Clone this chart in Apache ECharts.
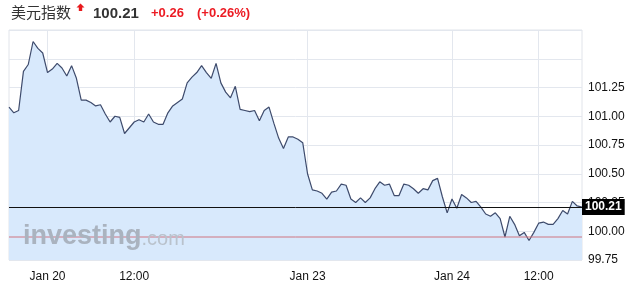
<!DOCTYPE html>
<html>
<head>
<meta charset="utf-8">
<script src="https://cdn.jsdelivr.net/npm/echarts@6/dist/echarts.min.js"></script>
<style>
html,body{margin:0;padding:0;background:#fff;}
#chart{width:631px;height:286px;}
</style>
</head>
<body>
<div id="chart"></div>
<script>
const titleName = '美元指数';
const lastPrice = 100.21;
const priceChange = 0.26;
const priceChangePct = 0.26;
const prevClose = 99.95;

const prices = [
  101.08,101.03,101.05,101.39,101.45,101.65,101.59,101.55,101.38,101.41,
  101.46,101.42,101.35,101.44,101.33,101.14,101.14,101.12,101.09,101.10,
  101.02,100.95,101.00,100.99,100.85,100.90,100.95,100.97,100.95,101.02,
  100.95,100.93,100.93,101.03,101.09,101.12,101.15,101.29,101.34,101.38,
  101.44,101.38,101.33,101.46,101.29,101.21,101.16,101.26,101.06,101.05,
  101.04,101.05,100.96,101.05,101.08,100.94,100.81,100.72,100.82,100.82,
  100.80,100.77,100.50,100.36,100.35,100.33,100.28,100.34,100.35,100.41,
  100.40,100.28,100.25,100.29,100.25,100.29,100.37,100.43,100.40,100.41,
  100.31,100.31,100.41,100.40,100.37,100.33,100.37,100.36,100.44,100.46,
  100.30,100.16,100.28,100.20,100.32,100.29,100.25,100.26,100.21,100.15,
  100.13,100.16,100.11,99.95,100.13,100.06,99.96,99.99,99.92,99.99,
  100.07,100.08,100.06,100.06,100.11,100.18,100.15,100.26,100.22,100.21
];
const xTickIndex = [8, 26, 62, 92, 110];
const xTickLabels = ['Jan 20', '12:00', 'Jan 23', 'Jan 24', '12:00'];
const categories = prices.map((_, i) => i);

const chart = echarts.init(document.getElementById('chart'));
const isTick = (idx) => xTickIndex.indexOf(idx) >= 0;
const prevCloseColor = '#cf7480';
const lastIdx = categories.length - 1;

chart.setOption({
  animation: false,
  textStyle: { fontFamily: 'Liberation Sans, Arial, sans-serif' },
  grid: { left: 9, right: 49, top: 30, bottom: 26, show: true, borderColor: '#e1e4ea', borderWidth: 1, backgroundColor: 'transparent' },
  xAxis: {
    type: 'category',
    data: categories,
    boundaryGap: false,
    axisLine: { show: false },
    axisTick: { show: false },
    axisLabel: {
      interval: (idx) => isTick(idx),
      formatter: (v, idx) => { const k = xTickIndex.indexOf(Number(v)); return k >= 0 ? xTickLabels[k] : ''; },
      color: '#111', fontSize: 12, margin: 11
    },
    splitLine: { show: true, interval: (idx) => isTick(idx), lineStyle: { color: '#e3e7ee', width: 1 } }
  },
  yAxis: {
    type: 'value',
    position: 'right',
    min: 99.75, max: 101.75, interval: 0.25,
    axisLine: { show: false },
    axisTick: { show: false },
    axisLabel: {
      formatter: (v) => v > 101.3 ? '' : v.toFixed(2),
      color: '#111', fontSize: 12, margin: 6
    },
    splitLine: { lineStyle: { color: '#e3e7ee', width: 1 } }
  },
  graphic: [
    { type: 'text', left: 11, top: 5, style: { text: titleName, fontSize: 15, fill: '#333', fontFamily: 'Noto Sans CJK SC, sans-serif' } },
    { type: 'polygon', shape: { points: [[80.5,3.5],[84.5,7.5],[82.2,7.5],[82.2,11],[78.8,11],[78.8,7.5],[76.5,7.5]] }, style: { fill: '#e8191c' } },
    { type: 'text', left: 93, top: 6, style: { text: lastPrice.toFixed(2), fontSize: 15, fontWeight: 'bold', fill: '#333', fontFamily: 'Liberation Sans, Arial, sans-serif' } },
    { type: 'text', left: 151, top: 7, style: { text: '+' + priceChange.toFixed(2), fontSize: 13, fontWeight: 'bold', fill: '#ec1c24', fontFamily: 'Liberation Sans, Arial, sans-serif' } },
    { type: 'text', left: 197, top: 7, style: { text: '(+' + priceChangePct.toFixed(2) + '%)', fontSize: 13, fontWeight: 'bold', fill: '#ec1c24', fontFamily: 'Liberation Sans, Arial, sans-serif' } },
    { type: 'text', left: 23, top: 223, z: 100, style: {
        text: '{a|investing}{b|.com}',
        rich: {
          a: { fontSize: 27, fontWeight: 'bold', fill: '#aab3bf', fontFamily: 'Liberation Sans, Arial, sans-serif' },
          b: { fontSize: 20, fill: '#b9c2cc', fontFamily: 'Liberation Sans, Arial, sans-serif', padding: [6,0,0,0] }
        }
      } }
  ],
  series: [{
    type: 'line',
    data: prices,
    symbol: 'none',
    color: '#111111',
    lineStyle: { color: '#3e4b6c', width: 1.2 },
    areaStyle: { color: '#d8e9fc', opacity: 1, origin: 'start' },
    z: 2,
    markLine: {
      silent: true,
      symbol: 'none',
      animation: false,
      lineStyle: { color: '#111111', width: 1, type: 'solid' },
      data: [
        { yAxis: lastPrice,
          label: { show: true, position: 'end', distance: 0, formatter: lastPrice.toFixed(2), backgroundColor: '#000', color: '#fff', fontWeight: 'bold', fontSize: 12, padding: [2, 3, 2, 3] } }
      ]
    }
  }, {
    type: 'line',
    name: 'prevClose',
    data: [[categories[0], prevClose], [categories[lastIdx], prevClose]],
    symbol: 'none',
    silent: true,
    z: 4,
    color: prevCloseColor,
    lineStyle: { color: prevCloseColor, width: 1, type: 'solid' }
  }]
});
</script>
</body>
</html>
